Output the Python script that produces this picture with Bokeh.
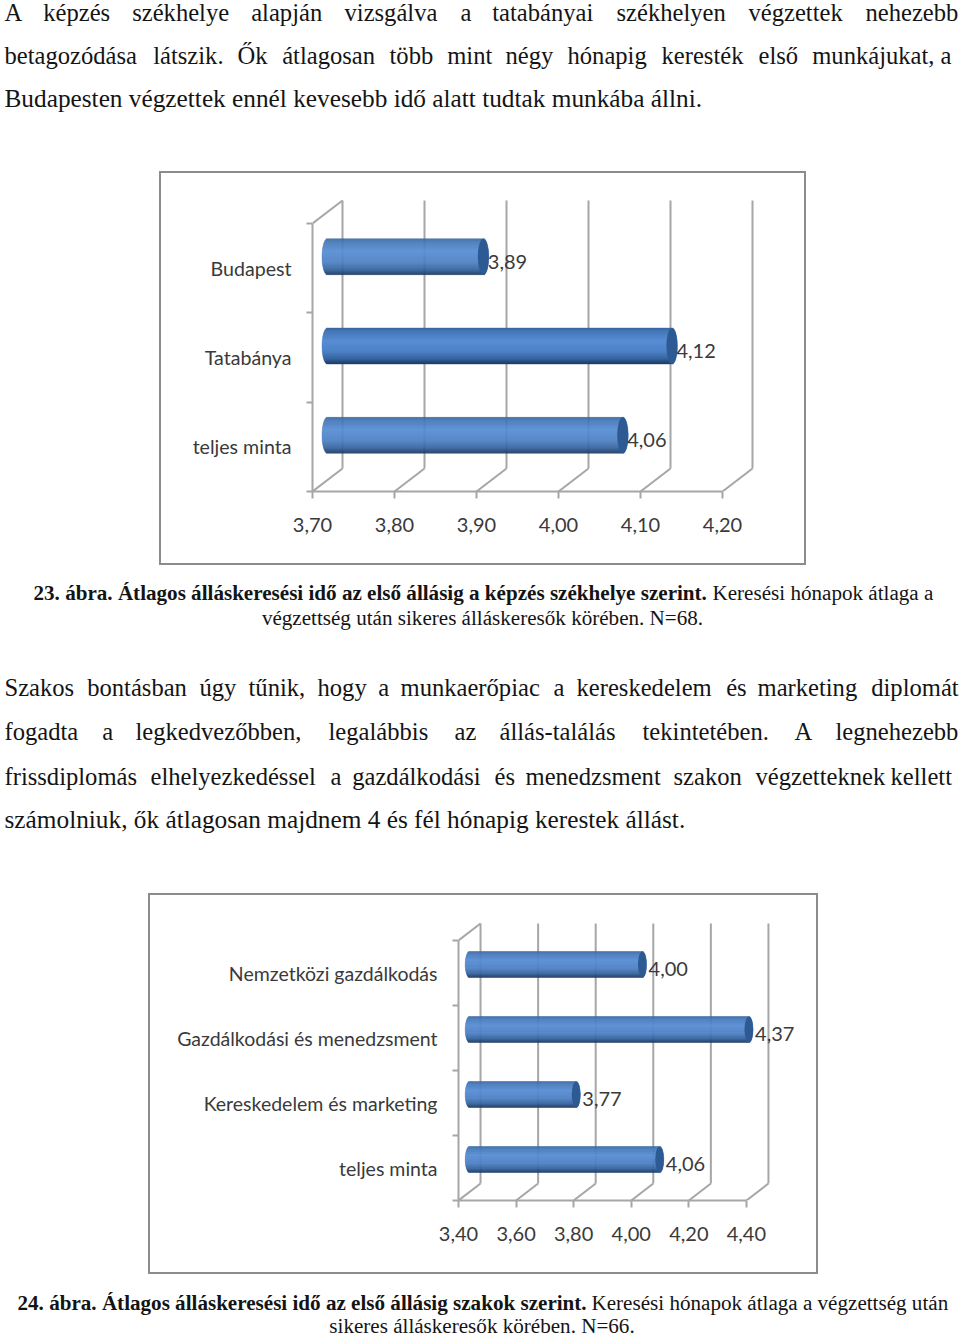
from bokeh.plotting import figure
from bokeh.embed import file_html
from bokeh.resources import INLINE
from bokeh.layouts import column
from bokeh.models import Range1d, LinearAxis, FixedTicker
from bokeh.core.properties import value
import math

# ---- data ----
cats1 = ["teljes minta", "Tatabánya", "Budapest"]
vals1 = [4.06, 4.12, 3.89]
labels1 = ["4,06", "4,12", "3,89"]
ticks1 = [3.70, 3.80, 3.90, 4.00, 4.10, 4.20]
ticklabels1 = ["3,70", "3,80", "3,90", "4,00", "4,10", "4,20"]

cats2 = ["teljes minta", "Kereskedelem és marketing", "Gazdálkodási és menedzsment", "Nemzetközi gazdálkodás"]
vals2 = [4.06, 3.77, 4.37, 4.00]
labels2 = ["4,06", "3,77", "4,37", "4,00"]
ticks2 = [3.40, 3.60, 3.80, 4.00, 4.20, 4.40]
ticklabels2 = ["3,40", "3,60", "3,80", "4,00", "4,20", "4,40"]

para1_l1 = ["A", "képzés", "székhelye", "alapján", "vizsgálva", "a", "tatabányai", "székhelyen", "végzettek", "nehezebb"]
para1_l2 = ["betagozódása", "látszik.", "Ők", "átlagosan", "több", "mint", "négy", "hónapig", "keresték", "első", "munkájukat,", "a"]
para1_l3 = ["Budapesten végzettek ennél kevesebb idő alatt tudtak munkába állni."]
cap1_bold = "23. ábra. Átlagos álláskeresési idő az első állásig a képzés székhelye szerint."
cap1_reg = "Keresési hónapok átlaga a"
cap1_l2 = "végzettség után sikeres álláskeresők körében. N=68."
para2_l1 = ["Szakos", "bontásban", "úgy", "tűnik,", "hogy", "a", "munkaerőpiac", "a", "kereskedelem", "és", "marketing", "diplomát"]
para2_l2 = ["fogadta", "a", "legkedvezőbben,", "legalábbis", "az", "állás-találás", "tekintetében.", "A", "legnehezebb"]
para2_l3 = ["frissdiplomás", "elhelyezkedéssel", "a", "gazdálkodási", "és", "menedzsment", "szakon", "végzetteknek", "kellett"]
para2_l4 = ["számolniuk, ők átlagosan majdnem 4 és fél hónapig kerestek állást."]
cap2_bold = "24. ábra. Átlagos álláskeresési idő az első állásig szakok szerint."
cap2_reg = "Keresési hónapok átlaga a végzettség után"
cap2_l2 = "sikeres álláskeresők körében. N=66."

# ---- layout of the justified lines (word starts, page px) ----
x_p1l1 = [4, 42.7, 131.7, 250.7, 344, 460, 491.7, 616, 748, 865]
x_p1l2 = [4, 152.7, 237, 281.7, 389, 446.7, 505, 567, 661, 758, 811.7, 940]
x_p1l3 = [4]
x_p2l1 = [4, 86.7, 199, 248, 317, 377.7, 400, 553, 576, 725.7, 757, 870.7]
x_p2l2 = [4, 101.7, 135, 328, 454, 499, 642, 794, 835]
x_p2l3 = [4, 150, 330, 351.7, 494, 525, 673, 755, 890]
x_p2l4 = [4]

SERIF = value("Liberation Serif")
INK = "#141414"
BODY = "25.3px"
JUST = "24.6px"
CAP = "21.1px"
SANS = "Lato"
GRID = "#a6a6a6"
BOX = "#8c8c8c"
LABEL = "#3a3a3a"
BODY_SHIFT = -9.5
CAP_SHIFT = -8


def text_fig(top, bottom):
    p = figure(width=960, height=bottom - top, x_range=Range1d(0, 960), y_range=Range1d(bottom, top),
               output_backend="svg", toolbar_location=None, min_border=0, outline_line_color=None,
               frame_align=False)
    p.axis.visible = False
    p.grid.visible = False
    return p


def words(p, xs, base, items, size=JUST, style="normal", align="left", shift=BODY_SHIFT):
    p.text(x=xs, y=[base] * len(xs), text=items, text_font=SERIF, text_font_size=value(size),
           text_color=INK, text_baseline="alphabetic", text_align=align, text_font_style=style,
           y_offset=shift)


STOPS = [(-1.0, (58, 102, 160)), (-0.82, (70, 120, 184)), (-0.3, (88, 142, 212)),
         (0.3, (78, 130, 198)), (0.72, (54, 100, 160)), (0.92, (36, 70, 118)), (1.0, (30, 58, 100))]


def shade(t):
    for (a, ca), (b, cb) in zip(STOPS, STOPS[1:]):
        if a <= t <= b:
            f = (t - a) / (b - a)
            return "#%02x%02x%02x" % tuple(int(round(u + (v - u) * f)) for u, v in zip(ca, cb))
    return "#1e3a64"


def bar_chart(cats, vals, labels, ticks, ticklabels, box, x0, ppu, floor, yu, dx, dy, barh, cap_a,
              font, label_dx, label_dy, label_standoff, tick_standoff, cat_font):
    bl, bt, br, bb = box
    v0 = ticks[0]
    n = len(cats)
    pad = 8
    frame_w = 2
    xend = x0 + (ticks[-1] - v0) * ppu + dx + 40
    ytop = floor - n * yu - dy - pad
    dv = dx / ppu
    du = dy / yu
    inner_w = br - bl - 2 * frame_w
    inner_h = bb - bt - 2 * frame_w

    p = figure(width=inner_w, height=inner_h,
               x_range=Range1d(v0, v0 + (xend - x0) / ppu),
               y_range=Range1d(0, (floor - ytop) / yu),
               x_axis_location=None, y_axis_location=None,
               output_backend="svg", toolbar_location=None,
               min_border_left=int(x0 - bl - frame_w), min_border_right=int(br - xend - frame_w),
               min_border_top=int(ytop - bt - frame_w), min_border_bottom=int(bb - floor - frame_w),
               outline_line_color=None, background_fill_color="white", frame_align=False)
    p.grid.visible = False

    # back wall, floor and side wall
    xs = [t + dv for t in ticks]
    p.segment(x0=xs, y0=[du] * len(xs), x1=xs, y1=[n + du] * len(xs), line_color=GRID, line_width=2)
    p.segment(x0=ticks, y0=[0] * len(ticks), x1=xs, y1=[du] * len(xs), line_color=GRID, line_width=2)
    p.segment(x0=[v0], y0=[n], x1=[v0 + dv], y1=[n + du], line_color=GRID, line_width=2)

    # cylinders
    base = v0 + dv / 2
    a = cap_a / ppu
    N = 36
    hh = barh / yu
    for i, v in enumerate(vals):
        cy = i + 0.5 + du / 2
        for k in range(N):
            t = -1 + (2 * k + 1) / N
            e = a * math.sqrt(max(0, 1 - t * t))
            c = shade(t)
            p.hbar(y=[cy - t * hh / 2], left=[base - e], right=[v + dv / 2 + e], height=hh / N,
                   fill_color=c, line_color=c, line_width=0.4)
        p.ellipse(x=[v + dv / 2], y=[cy], width=2 * a, height=hh, fill_color="#2d5a92", line_color=None)

    p.text(x=[v + dv / 2 for v in vals], y=[i + 0.5 + du / 2 for i in range(n)], text=labels,
           x_offset=cap_a + label_dx, y_offset=label_dy, text_font=value(SANS), text_font_size=value(font),
           text_color=LABEL, text_baseline="middle", text_align="left")

    xa = LinearAxis(ticker=FixedTicker(ticks=ticks), bounds=(ticks[0], ticks[-1]),
                    major_label_overrides=dict(zip(ticks, ticklabels)))
    xa.axis_line_color = GRID
    xa.axis_line_width = 2
    xa.major_tick_line_color = GRID
    xa.major_tick_line_width = 2
    xa.major_tick_out = 7
    xa.major_tick_in = 0
    xa.minor_tick_line_color = None
    xa.major_label_text_font = SANS
    xa.major_label_text_font_size = font
    xa.major_label_text_color = LABEL
    xa.major_label_standoff = tick_standoff
    p.add_layout(xa, "below")

    mids = [i + 0.5 for i in range(n)]
    ya = LinearAxis(ticker=FixedTicker(ticks=mids, minor_ticks=list(range(n + 1))), bounds=(0, n),
                    major_label_overrides=dict(zip(mids, cats)))
    ya.axis_line_color = GRID
    ya.axis_line_width = 2
    ya.major_tick_line_color = None
    ya.major_tick_out = 0
    ya.major_tick_in = 0
    ya.minor_tick_line_color = GRID
    ya.minor_tick_line_width = 2
    ya.minor_tick_out = 6
    ya.minor_tick_in = 0
    ya.major_label_text_font = SANS
    ya.major_label_text_font_size = cat_font
    ya.major_label_text_color = LABEL
    ya.major_label_standoff = label_standoff
    p.add_layout(ya, "left")
    return column(p, width=inner_w, height=inner_h, margin=(0, 0, 0, bl),
                  styles={"border": f"{frame_w}px solid {BOX}", "box-sizing": "content-box"})


t1 = text_fig(0, 171)
words(t1, x_p1l1, 21.7, para1_l1)
words(t1, x_p1l2, 64, para1_l2)
words(t1, x_p1l3, 107, para1_l3, BODY)

c1 = bar_chart(cats1, vals1, labels1, ticks1, ticklabels1, (159, 171, 806, 565), 312, 820, 491, 89.33,
               30, 23, 36, 5.5, "20px", -1, 5, 15, 19, "19.6px")

t2 = text_fig(565, 893)
words(t2, [33], 600, [cap1_bold], CAP, "bold", shift=CAP_SHIFT)
words(t2, [712], 600, [cap1_reg], CAP, shift=CAP_SHIFT)
words(t2, [482], 625, [cap1_l2], CAP, align="center", shift=CAP_SHIFT)
words(t2, x_p2l1, 696.7, para2_l1)
words(t2, x_p2l2, 740.7, para2_l2)
words(t2, x_p2l3, 785, para2_l3)
words(t2, x_p2l4, 828, para2_l4, BODY)

c2 = bar_chart(cats2, vals2, labels2, ticks2, ticklabels2, (148, 893, 818, 1274), 458, 287.5, 1200, 65,
               22, 17, 26, 4.3, "20px", 2, 4, 15, 19, "19.5px")

t3 = text_fig(1274, 1337)
words(t3, [17], 1310, [cap2_bold], CAP, "bold", shift=CAP_SHIFT)
words(t3, [591], 1310, [cap2_reg], CAP, shift=CAP_SHIFT)
words(t3, [481.5], 1333, [cap2_l2], CAP, align="center", shift=CAP_SHIFT)

page = column(t1, c1, t2, c2, t3, spacing=0)
open("out.html", "w").write(file_html(page, INLINE))
